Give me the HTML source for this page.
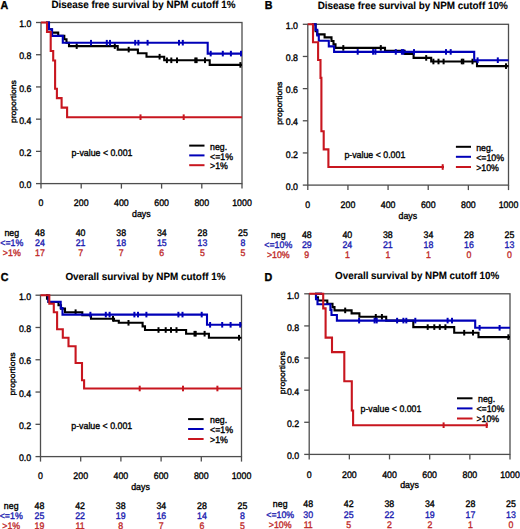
<!DOCTYPE html>
<html><head><meta charset="utf-8"><title>Kaplan-Meier survival by NPM cutoff</title>
<style>
html,body{margin:0;padding:0;background:#fff;}
svg{display:block;font-family:"Liberation Sans", sans-serif;}
text{stroke-width:0.35px;}
</style></head><body>
<svg width="520" height="529" viewBox="0 0 520 529" text-rendering="geometricPrecision">
<rect width="520" height="529" fill="#fff"/>
<text x="0.6" y="9.3" font-weight="bold" font-size="11.5" fill="#000000" textLength="7.72" lengthAdjust="spacingAndGlyphs" stroke="#000000">A</text>
<text x="51.5" y="7.6" font-weight="bold" font-size="10.4" fill="#000000" style="stroke-width:0.1px" textLength="184" lengthAdjust="spacingAndGlyphs" stroke="#000000">Disease free survival by NPM cutoff 1%</text>
<rect x="41" y="22.5" width="201" height="161.1" fill="none" stroke="#4e4e4e" stroke-width="1.3"/>
<line x1="36" y1="183.6" x2="41" y2="183.6" stroke="#4e4e4e" stroke-width="1.3"/>
<text x="31.4" y="188.3" text-anchor="end" font-size="9.5" fill="#000000" textLength="12.23" lengthAdjust="spacingAndGlyphs" stroke="#000000">0.0</text>
<line x1="36" y1="151.38" x2="41" y2="151.38" stroke="#4e4e4e" stroke-width="1.3"/>
<text x="31.4" y="156.08" text-anchor="end" font-size="9.5" fill="#000000" textLength="12.23" lengthAdjust="spacingAndGlyphs" stroke="#000000">0.2</text>
<line x1="36" y1="119.16" x2="41" y2="119.16" stroke="#4e4e4e" stroke-width="1.3"/>
<text x="31.4" y="123.86" text-anchor="end" font-size="9.5" fill="#000000" textLength="12.23" lengthAdjust="spacingAndGlyphs" stroke="#000000">0.4</text>
<line x1="36" y1="86.94" x2="41" y2="86.94" stroke="#4e4e4e" stroke-width="1.3"/>
<text x="31.4" y="91.64" text-anchor="end" font-size="9.5" fill="#000000" textLength="12.23" lengthAdjust="spacingAndGlyphs" stroke="#000000">0.6</text>
<line x1="36" y1="54.72" x2="41" y2="54.72" stroke="#4e4e4e" stroke-width="1.3"/>
<text x="31.4" y="59.42" text-anchor="end" font-size="9.5" fill="#000000" textLength="12.23" lengthAdjust="spacingAndGlyphs" stroke="#000000">0.8</text>
<line x1="36" y1="22.5" x2="41" y2="22.5" stroke="#4e4e4e" stroke-width="1.3"/>
<text x="31.4" y="27.2" text-anchor="end" font-size="9.5" fill="#000000" textLength="12.23" lengthAdjust="spacingAndGlyphs" stroke="#000000">1.0</text>
<line x1="41" y1="183.6" x2="41" y2="188.6" stroke="#4e4e4e" stroke-width="1.3"/>
<text x="41" y="206" text-anchor="middle" font-size="9.5" fill="#000000" textLength="4.89" lengthAdjust="spacingAndGlyphs" stroke="#000000">0</text>
<line x1="81.2" y1="183.6" x2="81.2" y2="188.6" stroke="#4e4e4e" stroke-width="1.3"/>
<text x="81.2" y="206" text-anchor="middle" font-size="9.5" fill="#000000" textLength="14.68" lengthAdjust="spacingAndGlyphs" stroke="#000000">200</text>
<line x1="121.4" y1="183.6" x2="121.4" y2="188.6" stroke="#4e4e4e" stroke-width="1.3"/>
<text x="121.4" y="206" text-anchor="middle" font-size="9.5" fill="#000000" textLength="14.68" lengthAdjust="spacingAndGlyphs" stroke="#000000">400</text>
<line x1="161.6" y1="183.6" x2="161.6" y2="188.6" stroke="#4e4e4e" stroke-width="1.3"/>
<text x="161.6" y="206" text-anchor="middle" font-size="9.5" fill="#000000" textLength="14.68" lengthAdjust="spacingAndGlyphs" stroke="#000000">600</text>
<line x1="201.8" y1="183.6" x2="201.8" y2="188.6" stroke="#4e4e4e" stroke-width="1.3"/>
<text x="201.8" y="206" text-anchor="middle" font-size="9.5" fill="#000000" textLength="14.68" lengthAdjust="spacingAndGlyphs" stroke="#000000">800</text>
<line x1="242" y1="183.6" x2="242" y2="188.6" stroke="#4e4e4e" stroke-width="1.3"/>
<text x="242" y="206" text-anchor="middle" font-size="9.5" fill="#000000" textLength="19.58" lengthAdjust="spacingAndGlyphs" stroke="#000000">1000</text>
<text x="141.3" y="217" text-anchor="middle" font-size="9.5" fill="#000000" textLength="18.59" lengthAdjust="spacingAndGlyphs" stroke="#000000">days</text>
<text transform="translate(15.5 101.6) rotate(-90)" text-anchor="middle" font-size="7.8" fill="#000000" textLength="43.03" lengthAdjust="spacingAndGlyphs" stroke="#000000">proportions</text>
<path d="M46 22.5H48.8V29.3H51.8V32.6H58.2V35.9H64.3V39.3H66.5V42.7H69V46.1H117.7V49.6H137.9V53.2H146.5V56.7H164.2V60.3H209.7V64.9H242" fill="none" stroke="#000000" stroke-width="2.1" stroke-linejoin="miter"/>
<rect x="75.7" y="43.3" width="2" height="5.6" fill="#000000"/>
<rect x="113.8" y="43.3" width="2" height="5.6" fill="#000000"/>
<rect x="127.7" y="46.8" width="2" height="5.6" fill="#000000"/>
<rect x="158.6" y="53.9" width="2" height="5.6" fill="#000000"/>
<rect x="165.9" y="57.5" width="2" height="5.6" fill="#000000"/>
<rect x="170.3" y="57.5" width="2" height="5.6" fill="#000000"/>
<rect x="176" y="57.5" width="2" height="5.6" fill="#000000"/>
<rect x="194.3" y="57.5" width="2" height="5.6" fill="#000000"/>
<rect x="195.6" y="57.5" width="2" height="5.6" fill="#000000"/>
<rect x="204" y="57.5" width="2" height="5.6" fill="#000000"/>
<rect x="239.4" y="62.1" width="2" height="5.6" fill="#000000"/>
<path d="M46 22.5H49V29.3H52.1V35.9H62.8V42.7H207.7V53.6H242" fill="none" stroke="#0000b8" stroke-width="2.1" stroke-linejoin="miter"/>
<rect x="90" y="39.9" width="2" height="5.6" fill="#0000b8"/>
<rect x="105.8" y="39.9" width="2" height="5.6" fill="#0000b8"/>
<rect x="109" y="39.9" width="2" height="5.6" fill="#0000b8"/>
<rect x="134.2" y="39.9" width="2" height="5.6" fill="#0000b8"/>
<rect x="137.4" y="39.9" width="2" height="5.6" fill="#0000b8"/>
<rect x="146.6" y="39.9" width="2" height="5.6" fill="#0000b8"/>
<rect x="178" y="39.9" width="2" height="5.6" fill="#0000b8"/>
<rect x="181.8" y="39.9" width="2" height="5.6" fill="#0000b8"/>
<rect x="209.7" y="50.8" width="2" height="5.6" fill="#0000b8"/>
<rect x="221.8" y="50.8" width="2" height="5.6" fill="#0000b8"/>
<rect x="229.9" y="50.8" width="2" height="5.6" fill="#0000b8"/>
<rect x="240" y="50.8" width="2" height="5.6" fill="#0000b8"/>
<path d="M41 22.5H47V32H50.7V51H53.2V60.5H55.1V88.7H56.9V98.1H61.6V107.6H67.1V117.2H242" fill="none" stroke="#c8161f" stroke-width="2.1" stroke-linejoin="miter"/>
<rect x="139.5" y="114.4" width="2" height="5.6" fill="#c8161f"/>
<rect x="182.7" y="114.4" width="2" height="5.6" fill="#c8161f"/>
<line x1="189.2" y1="145.6" x2="204.5" y2="145.6" stroke="#000000" stroke-width="2"/>
<text x="210" y="149.7" font-size="9.5" fill="#000000" textLength="17.13" lengthAdjust="spacingAndGlyphs" stroke="#000000">neg.</text>
<line x1="189.2" y1="155.4" x2="204.5" y2="155.4" stroke="#0000b8" stroke-width="2"/>
<text x="210" y="159.5" font-size="9.5" fill="#000000" textLength="23" lengthAdjust="spacingAndGlyphs" stroke="#000000">&lt;=1%</text>
<line x1="189.2" y1="165.2" x2="204.5" y2="165.2" stroke="#c8161f" stroke-width="2"/>
<text x="210" y="169.3" font-size="9.5" fill="#000000" textLength="17.86" lengthAdjust="spacingAndGlyphs" stroke="#000000">&gt;1%</text>
<text x="71.6" y="156.2" font-size="9.5" fill="#000000" textLength="60.91" lengthAdjust="spacingAndGlyphs" stroke="#000000">p-value &lt; 0.001</text>
<text x="11.8" y="236" text-anchor="middle" font-size="9.5" fill="#000000" textLength="14.68" lengthAdjust="spacingAndGlyphs" stroke="#000000">neg</text>
<text x="40" y="236" text-anchor="middle" font-size="9.5" fill="#000000" textLength="9.79" lengthAdjust="spacingAndGlyphs" stroke="#000000">48</text>
<text x="80.6" y="236" text-anchor="middle" font-size="9.5" fill="#000000" textLength="9.79" lengthAdjust="spacingAndGlyphs" stroke="#000000">40</text>
<text x="121.2" y="236" text-anchor="middle" font-size="9.5" fill="#000000" textLength="9.79" lengthAdjust="spacingAndGlyphs" stroke="#000000">38</text>
<text x="161.8" y="236" text-anchor="middle" font-size="9.5" fill="#000000" textLength="9.79" lengthAdjust="spacingAndGlyphs" stroke="#000000">34</text>
<text x="202.4" y="236" text-anchor="middle" font-size="9.5" fill="#000000" textLength="9.79" lengthAdjust="spacingAndGlyphs" stroke="#000000">28</text>
<text x="243" y="236" text-anchor="middle" font-size="9.5" fill="#000000" textLength="9.79" lengthAdjust="spacingAndGlyphs" stroke="#000000">25</text>
<text x="11.8" y="246.1" text-anchor="middle" font-size="9.5" fill="#1c1cb0" textLength="23" lengthAdjust="spacingAndGlyphs" stroke="#1c1cb0">&lt;=1%</text>
<text x="40" y="246.1" text-anchor="middle" font-size="9.5" fill="#1c1cb0" textLength="9.79" lengthAdjust="spacingAndGlyphs" stroke="#1c1cb0">24</text>
<text x="80.6" y="246.1" text-anchor="middle" font-size="9.5" fill="#1c1cb0" textLength="9.79" lengthAdjust="spacingAndGlyphs" stroke="#1c1cb0">21</text>
<text x="121.2" y="246.1" text-anchor="middle" font-size="9.5" fill="#1c1cb0" textLength="9.79" lengthAdjust="spacingAndGlyphs" stroke="#1c1cb0">18</text>
<text x="161.8" y="246.1" text-anchor="middle" font-size="9.5" fill="#1c1cb0" textLength="9.79" lengthAdjust="spacingAndGlyphs" stroke="#1c1cb0">15</text>
<text x="202.4" y="246.1" text-anchor="middle" font-size="9.5" fill="#1c1cb0" textLength="9.79" lengthAdjust="spacingAndGlyphs" stroke="#1c1cb0">13</text>
<text x="243" y="246.1" text-anchor="middle" font-size="9.5" fill="#1c1cb0" textLength="4.89" lengthAdjust="spacingAndGlyphs" stroke="#1c1cb0">8</text>
<text x="11.8" y="255.8" text-anchor="middle" font-size="9.5" fill="#c02a2a" textLength="17.86" lengthAdjust="spacingAndGlyphs" stroke="#c02a2a">&gt;1%</text>
<text x="40" y="255.8" text-anchor="middle" font-size="9.5" fill="#c02a2a" textLength="9.79" lengthAdjust="spacingAndGlyphs" stroke="#c02a2a">17</text>
<text x="80.6" y="255.8" text-anchor="middle" font-size="9.5" fill="#c02a2a" textLength="4.89" lengthAdjust="spacingAndGlyphs" stroke="#c02a2a">7</text>
<text x="121.2" y="255.8" text-anchor="middle" font-size="9.5" fill="#c02a2a" textLength="4.89" lengthAdjust="spacingAndGlyphs" stroke="#c02a2a">7</text>
<text x="161.8" y="255.8" text-anchor="middle" font-size="9.5" fill="#c02a2a" textLength="4.89" lengthAdjust="spacingAndGlyphs" stroke="#c02a2a">6</text>
<text x="202.4" y="255.8" text-anchor="middle" font-size="9.5" fill="#c02a2a" textLength="4.89" lengthAdjust="spacingAndGlyphs" stroke="#c02a2a">5</text>
<text x="243" y="255.8" text-anchor="middle" font-size="9.5" fill="#c02a2a" textLength="4.89" lengthAdjust="spacingAndGlyphs" stroke="#c02a2a">5</text>
<text x="264.8" y="8.7" font-weight="bold" font-size="11.5" fill="#000000" textLength="7.72" lengthAdjust="spacingAndGlyphs" stroke="#000000">B</text>
<text x="317.7" y="9" font-weight="bold" font-size="10.4" fill="#000000" style="stroke-width:0.1px" textLength="190" lengthAdjust="spacingAndGlyphs" stroke="#000000">Disease free survival by NPM cutoff 10%</text>
<rect x="307.8" y="24.3" width="200.7" height="160.8" fill="none" stroke="#4e4e4e" stroke-width="1.3"/>
<line x1="302.8" y1="185.1" x2="307.8" y2="185.1" stroke="#4e4e4e" stroke-width="1.3"/>
<text x="298" y="189.8" text-anchor="end" font-size="9.5" fill="#000000" textLength="12.23" lengthAdjust="spacingAndGlyphs" stroke="#000000">0.0</text>
<line x1="302.8" y1="152.94" x2="307.8" y2="152.94" stroke="#4e4e4e" stroke-width="1.3"/>
<text x="298" y="157.64" text-anchor="end" font-size="9.5" fill="#000000" textLength="12.23" lengthAdjust="spacingAndGlyphs" stroke="#000000">0.2</text>
<line x1="302.8" y1="120.78" x2="307.8" y2="120.78" stroke="#4e4e4e" stroke-width="1.3"/>
<text x="298" y="125.48" text-anchor="end" font-size="9.5" fill="#000000" textLength="12.23" lengthAdjust="spacingAndGlyphs" stroke="#000000">0.4</text>
<line x1="302.8" y1="88.62" x2="307.8" y2="88.62" stroke="#4e4e4e" stroke-width="1.3"/>
<text x="298" y="93.32" text-anchor="end" font-size="9.5" fill="#000000" textLength="12.23" lengthAdjust="spacingAndGlyphs" stroke="#000000">0.6</text>
<line x1="302.8" y1="56.46" x2="307.8" y2="56.46" stroke="#4e4e4e" stroke-width="1.3"/>
<text x="298" y="61.16" text-anchor="end" font-size="9.5" fill="#000000" textLength="12.23" lengthAdjust="spacingAndGlyphs" stroke="#000000">0.8</text>
<line x1="302.8" y1="24.3" x2="307.8" y2="24.3" stroke="#4e4e4e" stroke-width="1.3"/>
<text x="298" y="29" text-anchor="end" font-size="9.5" fill="#000000" textLength="12.23" lengthAdjust="spacingAndGlyphs" stroke="#000000">1.0</text>
<line x1="307.8" y1="185.1" x2="307.8" y2="190.1" stroke="#4e4e4e" stroke-width="1.3"/>
<text x="307.8" y="207.6" text-anchor="middle" font-size="9.5" fill="#000000" textLength="4.89" lengthAdjust="spacingAndGlyphs" stroke="#000000">0</text>
<line x1="347.94" y1="185.1" x2="347.94" y2="190.1" stroke="#4e4e4e" stroke-width="1.3"/>
<text x="347.94" y="207.6" text-anchor="middle" font-size="9.5" fill="#000000" textLength="14.68" lengthAdjust="spacingAndGlyphs" stroke="#000000">200</text>
<line x1="388.08" y1="185.1" x2="388.08" y2="190.1" stroke="#4e4e4e" stroke-width="1.3"/>
<text x="388.08" y="207.6" text-anchor="middle" font-size="9.5" fill="#000000" textLength="14.68" lengthAdjust="spacingAndGlyphs" stroke="#000000">400</text>
<line x1="428.22" y1="185.1" x2="428.22" y2="190.1" stroke="#4e4e4e" stroke-width="1.3"/>
<text x="428.22" y="207.6" text-anchor="middle" font-size="9.5" fill="#000000" textLength="14.68" lengthAdjust="spacingAndGlyphs" stroke="#000000">600</text>
<line x1="468.36" y1="185.1" x2="468.36" y2="190.1" stroke="#4e4e4e" stroke-width="1.3"/>
<text x="468.36" y="207.6" text-anchor="middle" font-size="9.5" fill="#000000" textLength="14.68" lengthAdjust="spacingAndGlyphs" stroke="#000000">800</text>
<line x1="508.5" y1="185.1" x2="508.5" y2="190.1" stroke="#4e4e4e" stroke-width="1.3"/>
<text x="508.5" y="207.6" text-anchor="middle" font-size="9.5" fill="#000000" textLength="19.58" lengthAdjust="spacingAndGlyphs" stroke="#000000">1000</text>
<text x="407.8" y="218.9" text-anchor="middle" font-size="9.5" fill="#000000" textLength="18.59" lengthAdjust="spacingAndGlyphs" stroke="#000000">days</text>
<text transform="translate(282.4 103.2) rotate(-90)" text-anchor="middle" font-size="7.8" fill="#000000" textLength="43.03" lengthAdjust="spacingAndGlyphs" stroke="#000000">proportions</text>
<path d="M312 24.3H315.6V31.1H317.2V34.4H324.6V37.4H331.5V41H333.5V44.4H335.5V47.9H385V50.8H404.6V54H413.6V57.9H431.2V61.5H477V66.1H508.5" fill="none" stroke="#000000" stroke-width="2.1" stroke-linejoin="miter"/>
<rect x="342.3" y="45.1" width="2" height="5.6" fill="#000000"/>
<rect x="379.8" y="45.1" width="2" height="5.6" fill="#000000"/>
<rect x="425.2" y="55.1" width="2" height="5.6" fill="#000000"/>
<rect x="432.4" y="58.7" width="2" height="5.6" fill="#000000"/>
<rect x="437.5" y="58.7" width="2" height="5.6" fill="#000000"/>
<rect x="442.6" y="58.7" width="2" height="5.6" fill="#000000"/>
<rect x="460.8" y="58.7" width="2" height="5.6" fill="#000000"/>
<rect x="462.3" y="58.7" width="2" height="5.6" fill="#000000"/>
<rect x="471.5" y="58.7" width="2" height="5.6" fill="#000000"/>
<rect x="505" y="63.3" width="2" height="5.6" fill="#000000"/>
<path d="M312 24.3H315.6V29.9H317.3V35.5H318.8V40.8H328.8V46.4H334.1V51.9H474.2V60.2H508.5" fill="none" stroke="#0000b8" stroke-width="2.1" stroke-linejoin="miter"/>
<rect x="356.7" y="49.1" width="2" height="5.6" fill="#0000b8"/>
<rect x="372.1" y="49.1" width="2" height="5.6" fill="#0000b8"/>
<rect x="374.4" y="49.1" width="2" height="5.6" fill="#0000b8"/>
<rect x="394.8" y="49.1" width="2" height="5.6" fill="#0000b8"/>
<rect x="400.9" y="49.1" width="2" height="5.6" fill="#0000b8"/>
<rect x="402.4" y="49.1" width="2" height="5.6" fill="#0000b8"/>
<rect x="413" y="49.1" width="2" height="5.6" fill="#0000b8"/>
<rect x="445" y="49.1" width="2" height="5.6" fill="#0000b8"/>
<rect x="449.7" y="49.1" width="2" height="5.6" fill="#0000b8"/>
<rect x="476.6" y="57.4" width="2" height="5.6" fill="#0000b8"/>
<rect x="496.8" y="57.4" width="2" height="5.6" fill="#0000b8"/>
<path d="M307.8 24.3H313V42.2H318.1V60H320.5V77.9H321.4V131.3H323.7V149.4H328.4V167H444" fill="none" stroke="#c8161f" stroke-width="2.1" stroke-linejoin="miter"/>
<rect x="441.7" y="164.2" width="2" height="5.6" fill="#c8161f"/>
<line x1="455.9" y1="146.8" x2="471" y2="146.8" stroke="#000000" stroke-width="2"/>
<text x="476.2" y="151.2" font-size="9.5" fill="#000000" textLength="17.13" lengthAdjust="spacingAndGlyphs" stroke="#000000">neg.</text>
<line x1="455.9" y1="156.8" x2="471" y2="156.8" stroke="#0000b8" stroke-width="2"/>
<text x="476.2" y="161.2" font-size="9.5" fill="#000000" textLength="27.89" lengthAdjust="spacingAndGlyphs" stroke="#000000">&lt;=10%</text>
<line x1="455.9" y1="167" x2="471" y2="167" stroke="#c8161f" stroke-width="2"/>
<text x="476.2" y="171.4" font-size="9.5" fill="#000000" textLength="22.75" lengthAdjust="spacingAndGlyphs" stroke="#000000">&gt;10%</text>
<text x="344.4" y="157.7" font-size="9.5" fill="#000000" textLength="60.91" lengthAdjust="spacingAndGlyphs" stroke="#000000">p-value &lt; 0.001</text>
<text x="278.3" y="238" text-anchor="middle" font-size="9.5" fill="#000000" textLength="14.68" lengthAdjust="spacingAndGlyphs" stroke="#000000">neg</text>
<text x="306.8" y="238" text-anchor="middle" font-size="9.5" fill="#000000" textLength="9.79" lengthAdjust="spacingAndGlyphs" stroke="#000000">48</text>
<text x="347.34" y="238" text-anchor="middle" font-size="9.5" fill="#000000" textLength="9.79" lengthAdjust="spacingAndGlyphs" stroke="#000000">40</text>
<text x="387.88" y="238" text-anchor="middle" font-size="9.5" fill="#000000" textLength="9.79" lengthAdjust="spacingAndGlyphs" stroke="#000000">38</text>
<text x="428.42" y="238" text-anchor="middle" font-size="9.5" fill="#000000" textLength="9.79" lengthAdjust="spacingAndGlyphs" stroke="#000000">34</text>
<text x="468.96" y="238" text-anchor="middle" font-size="9.5" fill="#000000" textLength="9.79" lengthAdjust="spacingAndGlyphs" stroke="#000000">28</text>
<text x="509.5" y="238" text-anchor="middle" font-size="9.5" fill="#000000" textLength="9.79" lengthAdjust="spacingAndGlyphs" stroke="#000000">25</text>
<text x="278.3" y="247.8" text-anchor="middle" font-size="9.5" fill="#1c1cb0" textLength="27.89" lengthAdjust="spacingAndGlyphs" stroke="#1c1cb0">&lt;=10%</text>
<text x="306.8" y="247.8" text-anchor="middle" font-size="9.5" fill="#1c1cb0" textLength="9.79" lengthAdjust="spacingAndGlyphs" stroke="#1c1cb0">29</text>
<text x="347.34" y="247.8" text-anchor="middle" font-size="9.5" fill="#1c1cb0" textLength="9.79" lengthAdjust="spacingAndGlyphs" stroke="#1c1cb0">24</text>
<text x="387.88" y="247.8" text-anchor="middle" font-size="9.5" fill="#1c1cb0" textLength="9.79" lengthAdjust="spacingAndGlyphs" stroke="#1c1cb0">21</text>
<text x="428.42" y="247.8" text-anchor="middle" font-size="9.5" fill="#1c1cb0" textLength="9.79" lengthAdjust="spacingAndGlyphs" stroke="#1c1cb0">18</text>
<text x="468.96" y="247.8" text-anchor="middle" font-size="9.5" fill="#1c1cb0" textLength="9.79" lengthAdjust="spacingAndGlyphs" stroke="#1c1cb0">16</text>
<text x="509.5" y="247.8" text-anchor="middle" font-size="9.5" fill="#1c1cb0" textLength="9.79" lengthAdjust="spacingAndGlyphs" stroke="#1c1cb0">13</text>
<text x="278.3" y="258" text-anchor="middle" font-size="9.5" fill="#c02a2a" textLength="22.75" lengthAdjust="spacingAndGlyphs" stroke="#c02a2a">&gt;10%</text>
<text x="306.8" y="258" text-anchor="middle" font-size="9.5" fill="#c02a2a" textLength="4.89" lengthAdjust="spacingAndGlyphs" stroke="#c02a2a">9</text>
<text x="347.34" y="258" text-anchor="middle" font-size="9.5" fill="#c02a2a" textLength="4.89" lengthAdjust="spacingAndGlyphs" stroke="#c02a2a">1</text>
<text x="387.88" y="258" text-anchor="middle" font-size="9.5" fill="#c02a2a" textLength="4.89" lengthAdjust="spacingAndGlyphs" stroke="#c02a2a">1</text>
<text x="428.42" y="258" text-anchor="middle" font-size="9.5" fill="#c02a2a" textLength="4.89" lengthAdjust="spacingAndGlyphs" stroke="#c02a2a">1</text>
<text x="468.96" y="258" text-anchor="middle" font-size="9.5" fill="#c02a2a" textLength="4.89" lengthAdjust="spacingAndGlyphs" stroke="#c02a2a">0</text>
<text x="509.5" y="258" text-anchor="middle" font-size="9.5" fill="#c02a2a" textLength="4.89" lengthAdjust="spacingAndGlyphs" stroke="#c02a2a">0</text>
<text x="0.8" y="281.3" font-weight="bold" font-size="11.5" fill="#000000" textLength="7.72" lengthAdjust="spacingAndGlyphs" stroke="#000000">C</text>
<text x="65.4" y="280.1" font-weight="bold" font-size="10.4" fill="#000000" style="stroke-width:0.1px" textLength="160.2" lengthAdjust="spacingAndGlyphs" stroke="#000000">Overall survival by NPM cutoff 1%</text>
<rect x="40.5" y="295.2" width="201" height="161.4" fill="none" stroke="#4e4e4e" stroke-width="1.3"/>
<line x1="35.5" y1="456.6" x2="40.5" y2="456.6" stroke="#4e4e4e" stroke-width="1.3"/>
<text x="31.2" y="461.3" text-anchor="end" font-size="9.5" fill="#000000" textLength="12.23" lengthAdjust="spacingAndGlyphs" stroke="#000000">0.0</text>
<line x1="35.5" y1="424.32" x2="40.5" y2="424.32" stroke="#4e4e4e" stroke-width="1.3"/>
<text x="31.2" y="429.02" text-anchor="end" font-size="9.5" fill="#000000" textLength="12.23" lengthAdjust="spacingAndGlyphs" stroke="#000000">0.2</text>
<line x1="35.5" y1="392.04" x2="40.5" y2="392.04" stroke="#4e4e4e" stroke-width="1.3"/>
<text x="31.2" y="396.74" text-anchor="end" font-size="9.5" fill="#000000" textLength="12.23" lengthAdjust="spacingAndGlyphs" stroke="#000000">0.4</text>
<line x1="35.5" y1="359.76" x2="40.5" y2="359.76" stroke="#4e4e4e" stroke-width="1.3"/>
<text x="31.2" y="364.46" text-anchor="end" font-size="9.5" fill="#000000" textLength="12.23" lengthAdjust="spacingAndGlyphs" stroke="#000000">0.6</text>
<line x1="35.5" y1="327.48" x2="40.5" y2="327.48" stroke="#4e4e4e" stroke-width="1.3"/>
<text x="31.2" y="332.18" text-anchor="end" font-size="9.5" fill="#000000" textLength="12.23" lengthAdjust="spacingAndGlyphs" stroke="#000000">0.8</text>
<line x1="35.5" y1="295.2" x2="40.5" y2="295.2" stroke="#4e4e4e" stroke-width="1.3"/>
<text x="31.2" y="299.9" text-anchor="end" font-size="9.5" fill="#000000" textLength="12.23" lengthAdjust="spacingAndGlyphs" stroke="#000000">1.0</text>
<line x1="40.5" y1="456.6" x2="40.5" y2="461.6" stroke="#4e4e4e" stroke-width="1.3"/>
<text x="40.5" y="479" text-anchor="middle" font-size="9.5" fill="#000000" textLength="4.89" lengthAdjust="spacingAndGlyphs" stroke="#000000">0</text>
<line x1="80.7" y1="456.6" x2="80.7" y2="461.6" stroke="#4e4e4e" stroke-width="1.3"/>
<text x="80.7" y="479" text-anchor="middle" font-size="9.5" fill="#000000" textLength="14.68" lengthAdjust="spacingAndGlyphs" stroke="#000000">200</text>
<line x1="120.9" y1="456.6" x2="120.9" y2="461.6" stroke="#4e4e4e" stroke-width="1.3"/>
<text x="120.9" y="479" text-anchor="middle" font-size="9.5" fill="#000000" textLength="14.68" lengthAdjust="spacingAndGlyphs" stroke="#000000">400</text>
<line x1="161.1" y1="456.6" x2="161.1" y2="461.6" stroke="#4e4e4e" stroke-width="1.3"/>
<text x="161.1" y="479" text-anchor="middle" font-size="9.5" fill="#000000" textLength="14.68" lengthAdjust="spacingAndGlyphs" stroke="#000000">600</text>
<line x1="201.3" y1="456.6" x2="201.3" y2="461.6" stroke="#4e4e4e" stroke-width="1.3"/>
<text x="201.3" y="479" text-anchor="middle" font-size="9.5" fill="#000000" textLength="14.68" lengthAdjust="spacingAndGlyphs" stroke="#000000">800</text>
<line x1="241.5" y1="456.6" x2="241.5" y2="461.6" stroke="#4e4e4e" stroke-width="1.3"/>
<text x="241.5" y="479" text-anchor="middle" font-size="9.5" fill="#000000" textLength="19.58" lengthAdjust="spacingAndGlyphs" stroke="#000000">1000</text>
<text x="140.5" y="489.5" text-anchor="middle" font-size="9.5" fill="#000000" textLength="18.59" lengthAdjust="spacingAndGlyphs" stroke="#000000">days</text>
<text transform="translate(14.9 374) rotate(-90)" text-anchor="middle" font-size="7.8" fill="#000000" textLength="43.03" lengthAdjust="spacingAndGlyphs" stroke="#000000">proportions</text>
<path d="M48.3 295.2H47V298.6H48.5V302H58.5V305.3H61V308.6H65V312.2H82.3V315.2H91V318.8H114V320.8H118.8V322.8H142.6V326.4H145V330H186.1V333.7H208.9V337.7H241.5" fill="none" stroke="#000000" stroke-width="2.1" stroke-linejoin="miter"/>
<rect x="74.6" y="309.4" width="2" height="5.6" fill="#000000"/>
<rect x="112" y="316" width="2" height="5.6" fill="#000000"/>
<rect x="127.5" y="320" width="2" height="5.6" fill="#000000"/>
<rect x="157.5" y="327.2" width="2" height="5.6" fill="#000000"/>
<rect x="164.7" y="327.2" width="2" height="5.6" fill="#000000"/>
<rect x="170" y="327.2" width="2" height="5.6" fill="#000000"/>
<rect x="175.5" y="327.2" width="2" height="5.6" fill="#000000"/>
<rect x="193.5" y="330.9" width="2" height="5.6" fill="#000000"/>
<rect x="194.7" y="330.9" width="2" height="5.6" fill="#000000"/>
<rect x="203.6" y="330.9" width="2" height="5.6" fill="#000000"/>
<rect x="238" y="334.9" width="2" height="5.6" fill="#000000"/>
<path d="M48.3 295.2H48.5V301.7H60.7V308.1H62.5V314.6H207V324.8H241.5" fill="none" stroke="#0000b8" stroke-width="2.1" stroke-linejoin="miter"/>
<rect x="89.4" y="311.8" width="2" height="5.6" fill="#0000b8"/>
<rect x="104.8" y="311.8" width="2" height="5.6" fill="#0000b8"/>
<rect x="108.6" y="311.8" width="2" height="5.6" fill="#0000b8"/>
<rect x="133.4" y="311.8" width="2" height="5.6" fill="#0000b8"/>
<rect x="137" y="311.8" width="2" height="5.6" fill="#0000b8"/>
<rect x="145.4" y="311.8" width="2" height="5.6" fill="#0000b8"/>
<rect x="177.4" y="311.8" width="2" height="5.6" fill="#0000b8"/>
<rect x="181.5" y="311.8" width="2" height="5.6" fill="#0000b8"/>
<rect x="200.7" y="311.8" width="2" height="5.6" fill="#0000b8"/>
<rect x="209.1" y="322" width="2" height="5.6" fill="#0000b8"/>
<rect x="221.2" y="322" width="2" height="5.6" fill="#0000b8"/>
<rect x="229.6" y="322" width="2" height="5.6" fill="#0000b8"/>
<rect x="239.2" y="322" width="2" height="5.6" fill="#0000b8"/>
<path d="M40.5 295.2H49.3V303.7H53.8V312.2H57.1V329.2H62.8V337.7H68.5V346.2H75.6V363H82V380.3H84.1V388.5H241.5" fill="none" stroke="#c8161f" stroke-width="2.1" stroke-linejoin="miter"/>
<rect x="138.7" y="385.7" width="2" height="5.6" fill="#c8161f"/>
<rect x="182" y="385.7" width="2" height="5.6" fill="#c8161f"/>
<rect x="216.4" y="385.7" width="2" height="5.6" fill="#c8161f"/>
<line x1="188.1" y1="419.1" x2="203.6" y2="419.1" stroke="#000000" stroke-width="2"/>
<text x="210" y="422.8" font-size="9.5" fill="#000000" textLength="17.13" lengthAdjust="spacingAndGlyphs" stroke="#000000">neg.</text>
<line x1="188.1" y1="429" x2="203.6" y2="429" stroke="#0000b8" stroke-width="2"/>
<text x="210" y="432.7" font-size="9.5" fill="#000000" textLength="23" lengthAdjust="spacingAndGlyphs" stroke="#000000">&lt;=1%</text>
<line x1="188.1" y1="439" x2="203.6" y2="439" stroke="#c8161f" stroke-width="2"/>
<text x="210" y="442.7" font-size="9.5" fill="#000000" textLength="17.86" lengthAdjust="spacingAndGlyphs" stroke="#000000">&gt;1%</text>
<text x="71.3" y="428.5" font-size="9.5" fill="#000000" textLength="60.91" lengthAdjust="spacingAndGlyphs" stroke="#000000">p-value &lt; 0.001</text>
<text x="11.2" y="509.1" text-anchor="middle" font-size="9.5" fill="#000000" textLength="14.68" lengthAdjust="spacingAndGlyphs" stroke="#000000">neg</text>
<text x="39.5" y="509.1" text-anchor="middle" font-size="9.5" fill="#000000" textLength="9.79" lengthAdjust="spacingAndGlyphs" stroke="#000000">48</text>
<text x="80.1" y="509.1" text-anchor="middle" font-size="9.5" fill="#000000" textLength="9.79" lengthAdjust="spacingAndGlyphs" stroke="#000000">42</text>
<text x="120.7" y="509.1" text-anchor="middle" font-size="9.5" fill="#000000" textLength="9.79" lengthAdjust="spacingAndGlyphs" stroke="#000000">38</text>
<text x="161.3" y="509.1" text-anchor="middle" font-size="9.5" fill="#000000" textLength="9.79" lengthAdjust="spacingAndGlyphs" stroke="#000000">34</text>
<text x="201.9" y="509.1" text-anchor="middle" font-size="9.5" fill="#000000" textLength="9.79" lengthAdjust="spacingAndGlyphs" stroke="#000000">28</text>
<text x="242.5" y="509.1" text-anchor="middle" font-size="9.5" fill="#000000" textLength="9.79" lengthAdjust="spacingAndGlyphs" stroke="#000000">25</text>
<text x="11.2" y="519" text-anchor="middle" font-size="9.5" fill="#1c1cb0" textLength="23" lengthAdjust="spacingAndGlyphs" stroke="#1c1cb0">&lt;=1%</text>
<text x="39.5" y="519" text-anchor="middle" font-size="9.5" fill="#1c1cb0" textLength="9.79" lengthAdjust="spacingAndGlyphs" stroke="#1c1cb0">25</text>
<text x="80.1" y="519" text-anchor="middle" font-size="9.5" fill="#1c1cb0" textLength="9.79" lengthAdjust="spacingAndGlyphs" stroke="#1c1cb0">22</text>
<text x="120.7" y="519" text-anchor="middle" font-size="9.5" fill="#1c1cb0" textLength="9.79" lengthAdjust="spacingAndGlyphs" stroke="#1c1cb0">19</text>
<text x="161.3" y="519" text-anchor="middle" font-size="9.5" fill="#1c1cb0" textLength="9.79" lengthAdjust="spacingAndGlyphs" stroke="#1c1cb0">16</text>
<text x="201.9" y="519" text-anchor="middle" font-size="9.5" fill="#1c1cb0" textLength="9.79" lengthAdjust="spacingAndGlyphs" stroke="#1c1cb0">14</text>
<text x="242.5" y="519" text-anchor="middle" font-size="9.5" fill="#1c1cb0" textLength="4.89" lengthAdjust="spacingAndGlyphs" stroke="#1c1cb0">8</text>
<text x="11.2" y="529.3" text-anchor="middle" font-size="9.5" fill="#c02a2a" textLength="17.86" lengthAdjust="spacingAndGlyphs" stroke="#c02a2a">&gt;1%</text>
<text x="39.5" y="529.3" text-anchor="middle" font-size="9.5" fill="#c02a2a" textLength="9.79" lengthAdjust="spacingAndGlyphs" stroke="#c02a2a">19</text>
<text x="80.1" y="529.3" text-anchor="middle" font-size="9.5" fill="#c02a2a" textLength="9.14" lengthAdjust="spacingAndGlyphs" stroke="#c02a2a">11</text>
<text x="120.7" y="529.3" text-anchor="middle" font-size="9.5" fill="#c02a2a" textLength="4.89" lengthAdjust="spacingAndGlyphs" stroke="#c02a2a">8</text>
<text x="161.3" y="529.3" text-anchor="middle" font-size="9.5" fill="#c02a2a" textLength="4.89" lengthAdjust="spacingAndGlyphs" stroke="#c02a2a">7</text>
<text x="201.9" y="529.3" text-anchor="middle" font-size="9.5" fill="#c02a2a" textLength="4.89" lengthAdjust="spacingAndGlyphs" stroke="#c02a2a">6</text>
<text x="242.5" y="529.3" text-anchor="middle" font-size="9.5" fill="#c02a2a" textLength="4.89" lengthAdjust="spacingAndGlyphs" stroke="#c02a2a">5</text>
<text x="264.6" y="281.3" font-weight="bold" font-size="11.5" fill="#000000" textLength="7.72" lengthAdjust="spacingAndGlyphs" stroke="#000000">D</text>
<text x="335.1" y="278.8" font-weight="bold" font-size="10.4" fill="#000000" style="stroke-width:0.1px" textLength="164.1" lengthAdjust="spacingAndGlyphs" stroke="#000000">Overall survival by NPM cutoff 10%</text>
<rect x="309.2" y="293.8" width="200.8" height="160.6" fill="none" stroke="#4e4e4e" stroke-width="1.3"/>
<line x1="304.2" y1="454.4" x2="309.2" y2="454.4" stroke="#4e4e4e" stroke-width="1.3"/>
<text x="299.2" y="459.1" text-anchor="end" font-size="9.5" fill="#000000" textLength="12.23" lengthAdjust="spacingAndGlyphs" stroke="#000000">0.0</text>
<line x1="304.2" y1="422.28" x2="309.2" y2="422.28" stroke="#4e4e4e" stroke-width="1.3"/>
<text x="299.2" y="426.98" text-anchor="end" font-size="9.5" fill="#000000" textLength="12.23" lengthAdjust="spacingAndGlyphs" stroke="#000000">0.2</text>
<line x1="304.2" y1="390.16" x2="309.2" y2="390.16" stroke="#4e4e4e" stroke-width="1.3"/>
<text x="299.2" y="394.86" text-anchor="end" font-size="9.5" fill="#000000" textLength="12.23" lengthAdjust="spacingAndGlyphs" stroke="#000000">0.4</text>
<line x1="304.2" y1="358.04" x2="309.2" y2="358.04" stroke="#4e4e4e" stroke-width="1.3"/>
<text x="299.2" y="362.74" text-anchor="end" font-size="9.5" fill="#000000" textLength="12.23" lengthAdjust="spacingAndGlyphs" stroke="#000000">0.6</text>
<line x1="304.2" y1="325.92" x2="309.2" y2="325.92" stroke="#4e4e4e" stroke-width="1.3"/>
<text x="299.2" y="330.62" text-anchor="end" font-size="9.5" fill="#000000" textLength="12.23" lengthAdjust="spacingAndGlyphs" stroke="#000000">0.8</text>
<line x1="304.2" y1="293.8" x2="309.2" y2="293.8" stroke="#4e4e4e" stroke-width="1.3"/>
<text x="299.2" y="298.5" text-anchor="end" font-size="9.5" fill="#000000" textLength="12.23" lengthAdjust="spacingAndGlyphs" stroke="#000000">1.0</text>
<line x1="309.2" y1="454.4" x2="309.2" y2="459.4" stroke="#4e4e4e" stroke-width="1.3"/>
<text x="309.2" y="477.6" text-anchor="middle" font-size="9.5" fill="#000000" textLength="4.89" lengthAdjust="spacingAndGlyphs" stroke="#000000">0</text>
<line x1="349.36" y1="454.4" x2="349.36" y2="459.4" stroke="#4e4e4e" stroke-width="1.3"/>
<text x="349.36" y="477.6" text-anchor="middle" font-size="9.5" fill="#000000" textLength="14.68" lengthAdjust="spacingAndGlyphs" stroke="#000000">200</text>
<line x1="389.52" y1="454.4" x2="389.52" y2="459.4" stroke="#4e4e4e" stroke-width="1.3"/>
<text x="389.52" y="477.6" text-anchor="middle" font-size="9.5" fill="#000000" textLength="14.68" lengthAdjust="spacingAndGlyphs" stroke="#000000">400</text>
<line x1="429.68" y1="454.4" x2="429.68" y2="459.4" stroke="#4e4e4e" stroke-width="1.3"/>
<text x="429.68" y="477.6" text-anchor="middle" font-size="9.5" fill="#000000" textLength="14.68" lengthAdjust="spacingAndGlyphs" stroke="#000000">600</text>
<line x1="469.84" y1="454.4" x2="469.84" y2="459.4" stroke="#4e4e4e" stroke-width="1.3"/>
<text x="469.84" y="477.6" text-anchor="middle" font-size="9.5" fill="#000000" textLength="14.68" lengthAdjust="spacingAndGlyphs" stroke="#000000">800</text>
<line x1="510" y1="454.4" x2="510" y2="459.4" stroke="#4e4e4e" stroke-width="1.3"/>
<text x="510" y="477.6" text-anchor="middle" font-size="9.5" fill="#000000" textLength="19.58" lengthAdjust="spacingAndGlyphs" stroke="#000000">1000</text>
<text x="409.5" y="488.1" text-anchor="middle" font-size="9.5" fill="#000000" textLength="18.59" lengthAdjust="spacingAndGlyphs" stroke="#000000">days</text>
<text transform="translate(284.5 372.7) rotate(-90)" text-anchor="middle" font-size="7.8" fill="#000000" textLength="43.03" lengthAdjust="spacingAndGlyphs" stroke="#000000">proportions</text>
<path d="M322.2 293.8H316V297.2H318V300.5H327.3V303.8H332.5V307.1H334.5V310.4H351.6V313.4H359.4V316.8H386.2V320.6H413.3V327.1H454.2V332.7H478.5V337.1H510" fill="none" stroke="#000000" stroke-width="2.1" stroke-linejoin="miter"/>
<rect x="344.2" y="307.6" width="2" height="5.6" fill="#000000"/>
<rect x="374.8" y="314" width="2" height="5.6" fill="#000000"/>
<rect x="380.9" y="314" width="2" height="5.6" fill="#000000"/>
<rect x="426.7" y="324.3" width="2" height="5.6" fill="#000000"/>
<rect x="433.3" y="324.3" width="2" height="5.6" fill="#000000"/>
<rect x="438.8" y="324.3" width="2" height="5.6" fill="#000000"/>
<rect x="444.4" y="324.3" width="2" height="5.6" fill="#000000"/>
<rect x="463.2" y="329.9" width="2" height="5.6" fill="#000000"/>
<rect x="472" y="329.9" width="2" height="5.6" fill="#000000"/>
<rect x="507.4" y="334.3" width="2" height="5.6" fill="#000000"/>
<path d="M322.2 293.8H316V299.1H317.5V304.3H330.4V309.9H331.5V315H336.9V320.6H475.2V327.8H510" fill="none" stroke="#0000b8" stroke-width="2.1" stroke-linejoin="miter"/>
<rect x="358.1" y="317.8" width="2" height="5.6" fill="#0000b8"/>
<rect x="373.6" y="317.8" width="2" height="5.6" fill="#0000b8"/>
<rect x="375.7" y="317.8" width="2" height="5.6" fill="#0000b8"/>
<rect x="396.1" y="317.8" width="2" height="5.6" fill="#0000b8"/>
<rect x="402.4" y="317.8" width="2" height="5.6" fill="#0000b8"/>
<rect x="405.3" y="317.8" width="2" height="5.6" fill="#0000b8"/>
<rect x="414.3" y="317.8" width="2" height="5.6" fill="#0000b8"/>
<rect x="446.6" y="317.8" width="2" height="5.6" fill="#0000b8"/>
<rect x="451" y="317.8" width="2" height="5.6" fill="#0000b8"/>
<rect x="478.6" y="325" width="2" height="5.6" fill="#0000b8"/>
<rect x="498.6" y="325" width="2" height="5.6" fill="#0000b8"/>
<path d="M309.2 293.8H323.2V308.4H325.6V337.6H332V352.1H344.3V381.3H351.8V410.5H353.1V425.2H488" fill="none" stroke="#c8161f" stroke-width="2.1" stroke-linejoin="miter"/>
<rect x="442.6" y="422.4" width="2" height="5.6" fill="#c8161f"/>
<rect x="485.7" y="422.4" width="2" height="5.6" fill="#c8161f"/>
<line x1="457" y1="398.3" x2="472.5" y2="398.3" stroke="#000000" stroke-width="2"/>
<text x="478" y="401.7" font-size="9.5" fill="#000000" textLength="17.13" lengthAdjust="spacingAndGlyphs" stroke="#000000">neg.</text>
<line x1="457" y1="408.4" x2="472.5" y2="408.4" stroke="#0000b8" stroke-width="2"/>
<text x="476.4" y="411.8" font-size="9.5" fill="#000000" textLength="27.89" lengthAdjust="spacingAndGlyphs" stroke="#000000">&lt;=10%</text>
<line x1="457" y1="418.5" x2="472.5" y2="418.5" stroke="#c8161f" stroke-width="2"/>
<text x="476.4" y="421.9" font-size="9.5" fill="#000000" textLength="22.75" lengthAdjust="spacingAndGlyphs" stroke="#000000">&gt;10%</text>
<text x="360.5" y="412" font-size="9.5" fill="#000000" textLength="60.91" lengthAdjust="spacingAndGlyphs" stroke="#000000">p-value &lt; 0.001</text>
<text x="280.2" y="507.2" text-anchor="middle" font-size="9.5" fill="#000000" textLength="14.68" lengthAdjust="spacingAndGlyphs" stroke="#000000">neg</text>
<text x="308.2" y="507.2" text-anchor="middle" font-size="9.5" fill="#000000" textLength="9.79" lengthAdjust="spacingAndGlyphs" stroke="#000000">48</text>
<text x="348.76" y="507.2" text-anchor="middle" font-size="9.5" fill="#000000" textLength="9.79" lengthAdjust="spacingAndGlyphs" stroke="#000000">42</text>
<text x="389.32" y="507.2" text-anchor="middle" font-size="9.5" fill="#000000" textLength="9.79" lengthAdjust="spacingAndGlyphs" stroke="#000000">38</text>
<text x="429.88" y="507.2" text-anchor="middle" font-size="9.5" fill="#000000" textLength="9.79" lengthAdjust="spacingAndGlyphs" stroke="#000000">34</text>
<text x="470.44" y="507.2" text-anchor="middle" font-size="9.5" fill="#000000" textLength="9.79" lengthAdjust="spacingAndGlyphs" stroke="#000000">28</text>
<text x="511" y="507.2" text-anchor="middle" font-size="9.5" fill="#000000" textLength="9.79" lengthAdjust="spacingAndGlyphs" stroke="#000000">25</text>
<text x="280.2" y="518" text-anchor="middle" font-size="9.5" fill="#1c1cb0" textLength="27.89" lengthAdjust="spacingAndGlyphs" stroke="#1c1cb0">&lt;=10%</text>
<text x="308.2" y="518" text-anchor="middle" font-size="9.5" fill="#1c1cb0" textLength="9.79" lengthAdjust="spacingAndGlyphs" stroke="#1c1cb0">30</text>
<text x="348.76" y="518" text-anchor="middle" font-size="9.5" fill="#1c1cb0" textLength="9.79" lengthAdjust="spacingAndGlyphs" stroke="#1c1cb0">25</text>
<text x="389.32" y="518" text-anchor="middle" font-size="9.5" fill="#1c1cb0" textLength="9.79" lengthAdjust="spacingAndGlyphs" stroke="#1c1cb0">22</text>
<text x="429.88" y="518" text-anchor="middle" font-size="9.5" fill="#1c1cb0" textLength="9.79" lengthAdjust="spacingAndGlyphs" stroke="#1c1cb0">19</text>
<text x="470.44" y="518" text-anchor="middle" font-size="9.5" fill="#1c1cb0" textLength="9.79" lengthAdjust="spacingAndGlyphs" stroke="#1c1cb0">17</text>
<text x="511" y="518" text-anchor="middle" font-size="9.5" fill="#1c1cb0" textLength="9.79" lengthAdjust="spacingAndGlyphs" stroke="#1c1cb0">13</text>
<text x="280.2" y="527.8" text-anchor="middle" font-size="9.5" fill="#c02a2a" textLength="22.75" lengthAdjust="spacingAndGlyphs" stroke="#c02a2a">&gt;10%</text>
<text x="308.2" y="527.8" text-anchor="middle" font-size="9.5" fill="#c02a2a" textLength="9.14" lengthAdjust="spacingAndGlyphs" stroke="#c02a2a">11</text>
<text x="348.76" y="527.8" text-anchor="middle" font-size="9.5" fill="#c02a2a" textLength="4.89" lengthAdjust="spacingAndGlyphs" stroke="#c02a2a">5</text>
<text x="389.32" y="527.8" text-anchor="middle" font-size="9.5" fill="#c02a2a" textLength="4.89" lengthAdjust="spacingAndGlyphs" stroke="#c02a2a">2</text>
<text x="429.88" y="527.8" text-anchor="middle" font-size="9.5" fill="#c02a2a" textLength="4.89" lengthAdjust="spacingAndGlyphs" stroke="#c02a2a">2</text>
<text x="470.44" y="527.8" text-anchor="middle" font-size="9.5" fill="#c02a2a" textLength="4.89" lengthAdjust="spacingAndGlyphs" stroke="#c02a2a">1</text>
<text x="511" y="527.8" text-anchor="middle" font-size="9.5" fill="#c02a2a" textLength="4.89" lengthAdjust="spacingAndGlyphs" stroke="#c02a2a">0</text>
</svg>
</body></html>
